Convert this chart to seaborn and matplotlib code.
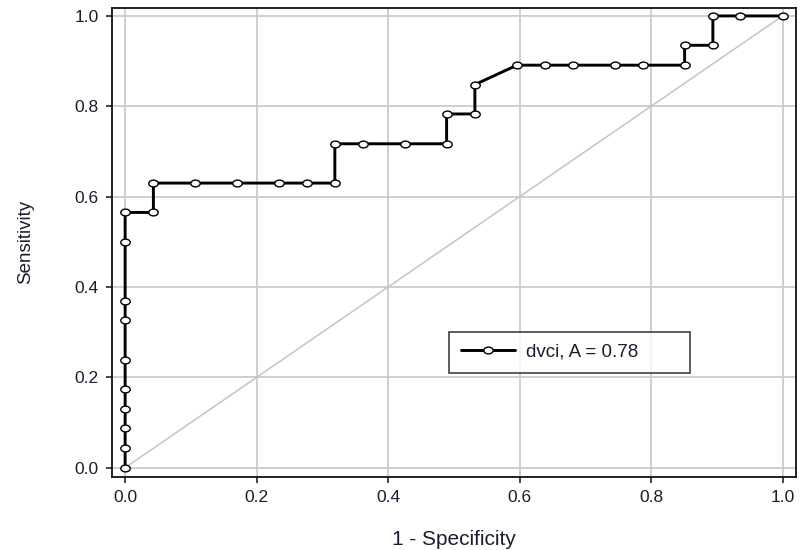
import numpy as np
import pandas as pd
import matplotlib
matplotlib.use("Agg")
import matplotlib.pyplot as plt
from matplotlib.path import Path
from matplotlib.transforms import Affine2D
import seaborn as sns

# ── Dados ─────────────────────────────────────────────────────────────────────
fpr = [0.0, 0.0, 0.0, 0.0, 0.0, 0.0, 0.0, 0.0, 0.0, 0.0,
       0.043, 0.043, 0.106, 0.170, 0.234, 0.277, 0.319, 0.319,
       0.362, 0.426, 0.489, 0.489, 0.532, 0.532, 0.596, 0.638,
       0.681, 0.745, 0.787, 0.851, 0.851, 0.894, 0.894, 0.936, 1.0]
tpr = [0.0, 0.043, 0.087, 0.130, 0.174, 0.239, 0.326, 0.370, 0.500, 0.565,
       0.565, 0.630, 0.630, 0.630, 0.630, 0.630, 0.630, 0.717,
       0.717, 0.717, 0.717, 0.783, 0.783, 0.848, 0.891, 0.891,
       0.891, 0.891, 0.891, 0.891, 0.935, 0.935, 1.0, 1.0, 1.0]
diag = [0.0, 1.0]
ticks = [0.0, 0.2, 0.4, 0.6, 0.8, 1.0]
legend_label = "dvci, A = 0.78"

df = pd.DataFrame({"fpr": fpr, "tpr": tpr})

sns.set_style("white")
plt.rcParams["font.family"] = ["Liberation Sans", "DejaVu Sans"]
TXT = "#1c1c30"

fig = plt.figure(figsize=(8.01, 5.5), dpi=100)
ax = fig.add_axes([0.1398, 0.1336, 0.9934 - 0.1398, 0.985 - 0.1336])

# marcador elíptico (a imagem original está esticada na horizontal)
ell = Path.unit_circle().transformed(Affine2D().scale(1.0, 0.72))

ax.plot(diag, diag, color="#c4c4c4", lw=1.1, zorder=1)
sns.lineplot(data=df, x="fpr", y="tpr", sort=False, estimator=None,
             color="black", lw=2.1, marker=ell, markersize=6.8,
             markerfacecolor="white", markeredgecolor="black",
             markeredgewidth=1.0, label=legend_label, ax=ax, zorder=3)

ax.set_xlim(-0.02, 1.02)
ax.set_ylim(-0.0195, 1.017)
ax.set_xticks(ticks)
ax.set_yticks(ticks)
ax.set_xticklabels([f"{t:.1f}" for t in ticks])
ax.set_yticklabels([f"{t:.1f}" for t in ticks])
ax.grid(True, color="#cccccc", lw=1.3)
ax.set_axisbelow(True)

for s in ax.spines.values():
    s.set_visible(True)
    s.set_color("#111111")
    s.set_linewidth(1.3)

ax.tick_params(axis="both", direction="out", length=4.5, width=1.1,
               color="#111111", labelsize=12.5, labelcolor=TXT, pad=5,
               bottom=True, left=True)
ax.set_xlabel("1 - Specificity", fontsize=15, color=TXT, labelpad=18)
ax.set_ylabel("Sensitivity", fontsize=13.5, color=TXT, labelpad=29)

# legenda: caixa expandida até a largura do original
leg = ax.legend(loc="center left", bbox_to_anchor=(0.493, 0.221, 0.353, 0.088),
                mode="expand", borderaxespad=0, fancybox=False, frameon=True,
                fontsize=13.5, handlelength=2.9, borderpad=0.62,
                handletextpad=0.6)
leg.get_frame().set_edgecolor("#111111")
leg.get_frame().set_linewidth(1.2)
for t in leg.get_texts():
    t.set_color(TXT)

fig.savefig("out.png", dpi=100)
